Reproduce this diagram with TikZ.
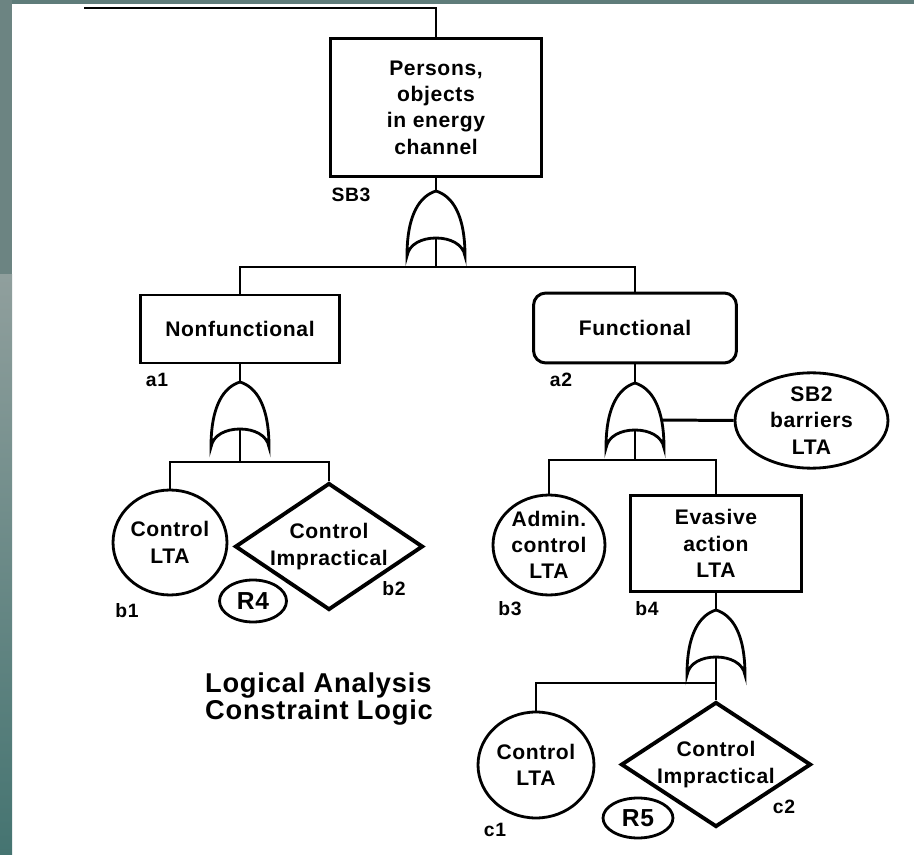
\documentclass[tikz,border=0pt]{standalone}
\usepackage{fontspec}
\setmainfont{Liberation Sans}[LetterSpace=3]
\usetikzlibrary{shapes.geometric}

\definecolor{stripA}{HTML}{6C8482}
\definecolor{stripB}{HTML}{5F7C7A}
\definecolor{stripC}{HTML}{909F9D}
\definecolor{stripD}{HTML}{457471}

\tikzset{
  txt/.style={font=\fontsize{12}{15}\selectfont\bfseries, align=center},
  tag/.style={font=\fontsize{11}{13}\selectfont\bfseries, inner sep=0pt},
  box/.style={txt, draw, line width=1.7pt, inner sep=0pt},
  circ/.style={txt, draw, ellipse, line width=1.6pt, inner sep=0pt},
  dia/.style={txt, draw, diamond, aspect=1.5, line width=2.2pt, inner sep=0pt},
  rnote/.style={draw, ellipse, line width=1.6pt, inner sep=0pt,
    font=\fontsize{14}{16}\selectfont\bfseries},
  link/.style={line width=1.7pt},
  orgate/.pic={
    \draw[line width=1.6pt, fill=white] (-29,65) .. controls (-29,23) and (-16,5) .. (0,0)
      .. controls (16,5) and (29,23) .. (29,65)
      .. controls (27,53) and (14,47) .. (0,47)
      .. controls (-14,47) and (-27,53) .. (-29,65) -- cycle;
    \coordinate (-top) at (0,0);
    \coordinate (-in) at (0,47);
    \coordinate (-east) at (26.5,37);
  }
}

\begin{document}
\begin{tikzpicture}[x=0.02cm, y=-0.02cm]
\useasboundingbox (0,0) rectangle (914,855);
% backdrop
\fill[white] (0,0) rectangle (914,855);
\fill[stripB] (0,0) rectangle (914,4);
\fill[stripA] (0,0) rectangle (12,275);
\shade[top color=stripC, bottom color=stripD] (0,275) rectangle (12,855);

% top event
\coordinate (topin) at (84,8);
\node[box, minimum width=4.24cm, minimum height=2.78cm] (top) at (436,107.5)
  {Persons,\\objects\\in energy\\channel};
\node[tag] (tsb3) at (351,195) {SB3};
\pic (g1) at (436,191) {orgate};
\coordinate (bar1) at (436,267);

% first level
\node[box, minimum width=3.98cm, minimum height=1.36cm] (nonf) at (240,329) {Nonfunctional};
\node[tag] (ta1) at (157,380) {a1};
\node[box, rounded corners=7pt, minimum width=4.06cm, minimum height=1.40cm] (func) at (635,328) {Functional};
\node[tag] (ta2) at (561,380) {a2};

% nonfunctional branch
\pic (g2) at (240,382) {orgate};
\coordinate (bar2) at (240,462);
\node[circ, minimum width=2.28cm, minimum height=2.10cm] (b1) at (170,542.5) {Control\\LTA};
\node[tag] (tb1) at (127,611) {b1};
\node[dia, minimum width=3.76cm, minimum height=2.54cm] (b2) at (329,546.5) {Control\\Impractical};
\node[tag] (tb2) at (394,589) {b2};
\node[rnote, minimum width=1.34cm, minimum height=0.84cm] (r4) at (253,601) {R4};

% functional branch
\pic (g3) at (635,383) {orgate};
\coordinate (bar3) at (635,460);
\node[circ, minimum width=3.06cm, minimum height=1.90cm] (sb2) at (811.5,420.5) {SB2\\barriers\\LTA};
\node[circ, minimum width=2.24cm, minimum height=2.00cm] (b3) at (549,545) {Admin.\\control\\LTA};
\node[tag] (tb3) at (510,609) {b3};
\node[box, minimum width=3.42cm, minimum height=1.94cm] (b4) at (716,543.5) {Evasive\\action\\LTA};
\node[tag] (tb4) at (647,609) {b4};

% evasive action
\pic (g4) at (716,610) {orgate};
\coordinate (bar4) at (716,683);
\node[circ, minimum width=2.32cm, minimum height=2.12cm] (c1) at (536,765) {Control\\LTA};
\node[tag] (tc1) at (495,830) {c1};
\node[dia, minimum width=3.80cm, minimum height=2.50cm] (c2) at (716,764.5) {Control\\Impractical};
\node[tag] (tc2) at (784,807) {c2};
\node[rnote, minimum width=1.40cm, minimum height=0.80cm] (r5) at (638,818) {R5};

\node[font=\fontsize{15.5}{13.5}\selectfont\bfseries, align=left] (title) at (319,699)
  {Logical Analysis\\Constraint Logic};

% connectors
\draw[link] (topin) -| (top.north);
\draw[link] (top.south) -- (g1-top);
\draw[link] (g1-in) -- (bar1) -| (nonf.north);
\draw[link] (bar1) -| (func.north);
\draw[link] (nonf.south) -- (g2-top);
\draw[link] (g2-in) -- (bar2) -| (b1.north);
\draw[link] (bar2) -| (b2.north);
\draw[link] (func.south) -- (g3-top);
\draw[link] (g3-east) -- (sb2.west);
\draw[link] (g3-in) -- (bar3) -| (b3.north);
\draw[link] (bar3) -| (b4.north);
\draw[link] (b4.south) -- (g4-top);
\draw[link] (g4-in) -- (bar4) -| (c1.north);
\draw[link] (bar4) -- (c2.north);
\end{tikzpicture}
\end{document}
